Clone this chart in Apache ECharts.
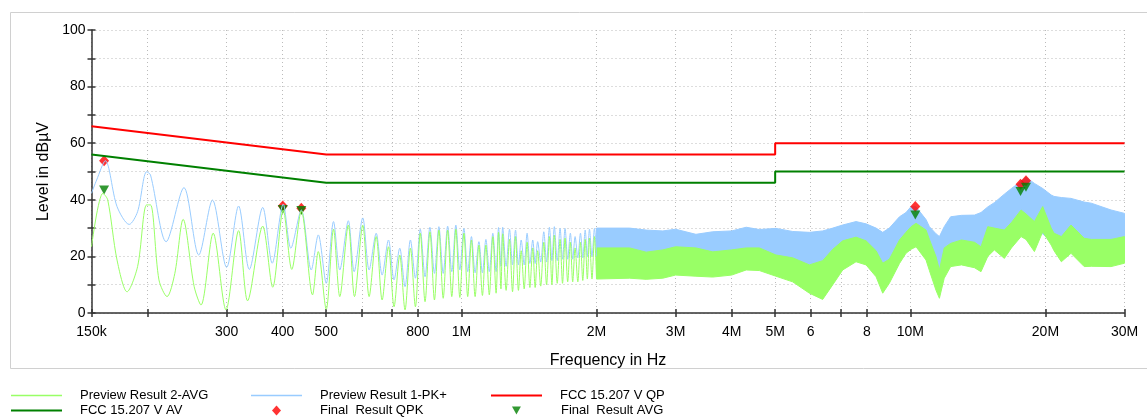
<!DOCTYPE html>
<html><head><meta charset="utf-8">
<script src="https://cdn.jsdelivr.net/npm/echarts@6/dist/echarts.min.js"></script>
<style>html,body{margin:0;padding:0;background:#fff}#c{width:1147px;height:417px}</style>
</head><body><div id="c"></div>
<script>
// ---------- axis ticks ----------
const xTickHz = [150e3, 200e3, 300e3, 400e3, 500e3, 600e3, 700e3, 800e3, 1e6, 2e6, 3e6, 4e6, 5e6, 6e6, 7e6, 8e6, 10e6, 20e6, 30e6];
const xTickLabels = ['150k', '', '300', '400', '500', '', '', '800', '1M', '2M', '3M', '4M', '5M', '6', '', '8', '10M', '20M', '30M'];
const yTicks = [0, 10, 20, 30, 40, 50, 60, 70, 80, 90, 100];

// ---------- Preview Result 1-PK+ (low band, kHz / dBµV) ----------
const pkLowKHz = [150,154,161,171,182,190,199,203,220,241,260,279,300,319,337,361,379,401,417,440,463,480,500,519,536,560,577,603,623,646,666,688,708,729,749,770,790,810,830,851,871,891,911,932,952,972,992,1013,1033,1053,1073,1094,1114,1134,1154,1175,1195,1210,
  1225,1236,1258,1280,1300,1320,1340,1359,1380,1401,1421,1442,1460,1479,1502,1526,1548,1571,1591,1611,1635,1659,1680,1702,1725,1749,1770,1792,1817,1842,1864,1887,1908,1929,1954,1979,2000];
const pkLowLevel = [42.3,47,53.8,37.6,31.3,35.8,49.9,48.8,25.2,44.3,20.5,39.9,16.1,37.8,15.4,37.3,17.6,38.5,22.9,36.4,15.2,27.6,10.5,32.3,15.2,32.6,14.6,33.6,15.2,28.2,13.4,25.8,11.7,22.9,9.3,25.8,12.3,29.6,12.8,30.3,14,30.5,14,30.7,14.6,31.1,15.2,29.9,14.6,27,14.2,25.2,14.2,26,14.6,28.2,14.6,30.2,
  16.5,30.3,16.5,29.6,17,29.3,17,25.8,17,28.2,17.5,25.8,17.5,25.2,18,28.7,18,30.3,18.5,30.5,18.5,29.9,19,29.9,19,28.2,19,27,19.5,28.2,19.5,29.3,20,29.6,20,29.9,20];

// ---------- Preview Result 2-AVG (low band, kHz / dBµV) ----------
const avgLowKHz = [150,159,163,171,180,190,199,203,212,221,230,240,254,263,280,299,319,334,361,380,401,419,440,466,480,500,519,536,560,578,603,623,646,666,688,708,729,749,770,790,810,830,851,871,891,911,932,952,972,992,1013,1033,1053,1073,1094,1114,1134,1154,1175,1195,1210,
  1225,1236,1258,1280,1300,1320,1340,1359,1380,1401,1421,1442,1460,1479,1502,1526,1548,1571,1591,1611,1635,1659,1680,1702,1725,1749,1770,1792,1817,1842,1864,1887,1908,1929,1954,1979,2000];
const avgLowLevel = [23.4,42.3,40,18.7,7.5,16.4,38.2,38.2,11.7,5.8,14,33.1,9.3,2.8,28.2,1.1,29.1,4.3,30.7,9.1,36.4,15.4,36.1,6.4,21.7,1.3,29.6,5.8,31.1,5.8,31,5.8,27,4.6,23.4,2.2,20.5,1.1,22.9,2.2,28.2,4,28.7,4.6,29.3,5.2,29.3,5.8,29.6,5.5,28.2,5.8,25.8,5.8,24,6.2,24,6.4,27,7,28.5,
  8.5,28,8,26,7.5,27,8,22,8.5,25,9,23,9,22,9.5,25,10,27,10,27.5,10.5,26,10.5,26.5,11,25,11,23,11,25,11.5,26,12,26.5,12,27,12];

// ---------- dense region 2–30 MHz: envelopes (MHz / dBµV) ----------
const bandMHz = [2.0,2.37,2.58,2.81,3.0,3.33,3.63,4.0,4.31,4.61,5.02,5.47,5.96,6.38,6.72,7.07,7.57,7.97,8.39,8.68,8.98,9.46,9.78,10.04,10.3,10.84,11.03,11.41,11.61,11.9,12.3,13.0,13.9,14.37,14.88,15.39,16.2,16.8,17.65,18.1,18.9,19.72,20.6,20.9,21.7,22.8,24.4,25.3,28.0,30.0];
const pkTop  = [30,30,29.3,29,29.6,27.8,28.7,29,30.3,29.5,29.9,28.8,28.5,29,30,31.1,32.3,31.5,30,28.5,30,34,35.5,37.6,37.5,33,30.5,28,27,30.5,34,34.5,34.6,35.5,37.5,39,42,44,46.5,48,45.8,44,41.7,41.2,40.8,40.5,39.2,38.8,36.4,35.2];
const pkBot  = [20,21,20.5,21,21.5,21.5,21.5,21.5,21.5,20.5,19,17,15,14,16,20,22,21,18,15,16,20,23,24,25,22,19,14,12,17,21,21,21,20,23,25,24,26,28,28,26,28,25,23,20,22,20,20,20,20];
const avgTop = [23,23,21.5,22.3,23.4,23,21.6,22.3,23,23,20.5,19.5,17,18.5,22.5,25.5,26.8,25.5,22,17.6,19,25.8,28.5,30.5,31.7,29.3,26,19.9,15.2,23,24.6,25.8,25,23.4,30.5,30,29.3,32,36.4,35,32.3,37.6,30,28.2,27,31.1,26.4,26,26,27];
const avgBot = [12,12.3,11.9,12.3,13.4,13,12.7,13.4,15.2,15,13,11,7,4.8,10,15.2,18.1,17,12.8,7,10.5,17.5,21.1,22.5,23.4,18.7,15,8,5.2,12.3,16.4,17,16,14.6,20,22.3,19.3,23,27,26,21.7,28.7,24,22,18.1,21.1,16.4,16.5,16.4,17.6];

// ---------- limit lines (Hz / dBµV) ----------
const qpLimitHz = [150e3, 500e3, 5e6, 5e6, 30e6];
const qpLimitLevel = [66, 56, 56, 60, 60];
const avLimitHz = [150e3, 500e3, 5e6, 5e6, 30e6];
const avLimitLevel = [56, 46, 46, 50, 50];

// ---------- final results (MHz / dBµV) ----------
const finalMHz = [0.160, 0.400, 0.440, 10.26, 17.6, 18.1];
const finalQpk = [53.8, 37.8, 37.0, 37.6, 45.5, 46.7];
const finalAvg = [43.5, 36.6, 36.2, 34.6, 42.9, 44.4];

// ---------- build ----------
const lx = hz => Math.log10(hz);
const BLUE = '#99ccff', LGREEN = '#99ff66', RED = '#ff0000', DGREEN = '#008000';
const FONT = "'Liberation Sans', Arial, sans-serif";
const xMin = lx(xTickHz[0]), xMax = lx(xTickHz[xTickHz.length - 1]);
const xTickVals = xTickHz.map(lx);
const xLabelVals = xTickHz.filter((h, i) => xTickLabels[i] !== '').map(lx);
function xLabelOf(v) {
  let best = 0, bd = 1e9;
  xTickVals.forEach((t, i) => { const d = Math.abs(t - v); if (d < bd) { bd = d; best = i; } });
  return xTickLabels[best];
}
function band(name, top, bot, color) {
  return {
    type: 'custom', name: name, coordinateSystem: 'cartesian2d', silent: true,
    data: [[lx(bandMHz[0] * 1e6), bot[0]]],
    renderItem: function (params, api) {
      const pts = [];
      for (let i = 0; i < bandMHz.length; i++) pts.push(api.coord([lx(bandMHz[i] * 1e6), top[i]]));
      for (let i = bandMHz.length - 1; i >= 0; i--) pts.push(api.coord([lx(bandMHz[i] * 1e6), bot[i]]));
      return { type: 'polygon', shape: { points: pts }, style: { fill: color, stroke: color, lineWidth: 1 } };
    }
  };
}
function lineLegend(name, left, top, thick) {
  return {
    data: [name], left: left, top: top, padding: 0,
    icon: 'rect', itemWidth: 51, itemHeight: thick, selectedMode: false,
    textStyle: { fontFamily: FONT, fontSize: 13, color: '#000', padding: [0, 0, 0, 13] }
  };
}
function markLegend(name, left, top, w, h, textPad) {
  return {
    data: [name], left: left, top: top, padding: 0,
    itemWidth: w, itemHeight: h, selectedMode: false,
    textStyle: { fontFamily: FONT, fontSize: 13, color: '#000', padding: [0, 0, 0, textPad] }
  };
}

const chart = echarts.init(document.getElementById('c'), null, { renderer: 'canvas' });
chart.setOption({
  animation: false,
  backgroundColor: '#fff',
  graphic: [{
    type: 'rect', shape: { x: 10.5, y: 12.5, width: 1150, height: 356 },
    style: { fill: 'none', stroke: '#d0d0d0', lineWidth: 1 }, z: -10
  }],
  grid: { left: 91.5, right: 22.5, top: 30, bottom: 104, containLabel: false },
  legend: [
    lineLegend('Preview Result 2-AVG', 11, 389, 1.5),
    lineLegend('Preview Result 1-PK+', 251, 389, 1.5),
    lineLegend('FCC 15.207 V QP', 491, 389, 2),
    lineLegend('FCC 15.207 V AV', 11, 404, 2),
    markLegend('Final  Result QPK', 272, 404, 9, 10, 34),
    markLegend('Final  Result AVG', 512, 404, 9, 8, 35)
  ],
  xAxis: [{
    type: 'value', min: xMin, max: xMax, position: 'bottom',
    name: 'Frequency in Hz', nameLocation: 'middle', nameGap: 40,
    nameTextStyle: { fontFamily: FONT, fontSize: 16, color: '#000' },
    axisLine: { show: true, onZero: false, lineStyle: { color: '#333', width: 1.5 } },
    axisTick: { show: true, length: 4, customValues: xTickVals, lineStyle: { color: '#333', width: 1.5 } },
    axisLabel: { show: true, customValues: xLabelVals, formatter: v => xLabelOf(v), margin: 12,
      fontFamily: FONT, fontSize: 14, color: '#000' },
    splitLine: { show: true, lineStyle: { color: '#bbbbbb', type: [1, 3], width: 1 } }
  }, {
    type: 'value', min: xMin, max: xMax, position: 'bottom',
    axisLine: { show: false, onZero: false },
    axisTick: { show: true, inside: true, length: 4, customValues: xTickVals, lineStyle: { color: '#333', width: 1.5 } },
    axisLabel: { show: false }, splitLine: { show: false }
  }],
  yAxis: [{
    type: 'value', min: 0, max: 100, interval: 10, position: 'left',
    name: 'Level in dBµV', nameLocation: 'middle', nameGap: 40, nameRotate: 90,
    nameTextStyle: { fontFamily: FONT, fontSize: 16, color: '#000' },
    axisLine: { show: true, onZero: false, lineStyle: { color: '#333', width: 1.5 } },
    axisTick: { show: true, length: 4, lineStyle: { color: '#333', width: 1.5 } },
    axisLabel: { margin: 6, fontFamily: FONT, fontSize: 14, color: '#000',
      formatter: v => (v % 20 === 0 ? String(v) : '') },
    splitLine: { show: true, lineStyle: { color: '#bbbbbb', type: [1, 3], width: 1 } }
  }, {
    type: 'value', min: 0, max: 100, interval: 10, position: 'left',
    axisLine: { show: false, onZero: false },
    axisTick: { show: true, inside: true, length: 4, lineStyle: { color: '#333', width: 1.5 } },
    axisLabel: { show: false }, splitLine: { show: false }
  }],
  series: [
    { name: 'Preview Result 1-PK+', type: 'line', symbol: 'none', silent: true, smooth: 0.3,
      data: pkLowKHz.map((k, i) => [lx(k * 1e3), pkLowLevel[i]]),
      lineStyle: { color: BLUE, width: 1 }, itemStyle: { color: BLUE } },
    band('PK band', pkTop, pkBot, BLUE),
    { name: 'Preview Result 2-AVG', type: 'line', symbol: 'none', silent: true, smooth: 0.3,
      data: avgLowKHz.map((k, i) => [lx(k * 1e3), avgLowLevel[i]]),
      lineStyle: { color: LGREEN, width: 1 }, itemStyle: { color: LGREEN } },
    band('AVG band', avgTop, avgBot, LGREEN),
    { name: 'FCC 15.207 V QP', type: 'line', symbol: 'none', silent: true,
      data: qpLimitHz.map((h, i) => [lx(h), qpLimitLevel[i]]),
      lineStyle: { color: RED, width: 2 }, itemStyle: { color: RED } },
    { name: 'FCC 15.207 V AV', type: 'line', symbol: 'none', silent: true,
      data: avLimitHz.map((h, i) => [lx(h), avLimitLevel[i]]),
      lineStyle: { color: DGREEN, width: 2 }, itemStyle: { color: DGREEN } },
    { name: 'Final  Result QPK', type: 'scatter', symbol: 'diamond', symbolSize: [10, 11], silent: true,
      data: finalMHz.map((m, i) => [lx(m * 1e6), finalQpk[i]]), itemStyle: { color: RED } },
    { name: 'Final  Result AVG', type: 'scatter', symbol: 'path://M0,0L10,0L5,9Z', symbolSize: [10, 9], silent: true,
      data: finalMHz.map((m, i) => [lx(m * 1e6), finalAvg[i]]), itemStyle: { color: DGREEN } }
  ]
});
</script>
</body></html>
